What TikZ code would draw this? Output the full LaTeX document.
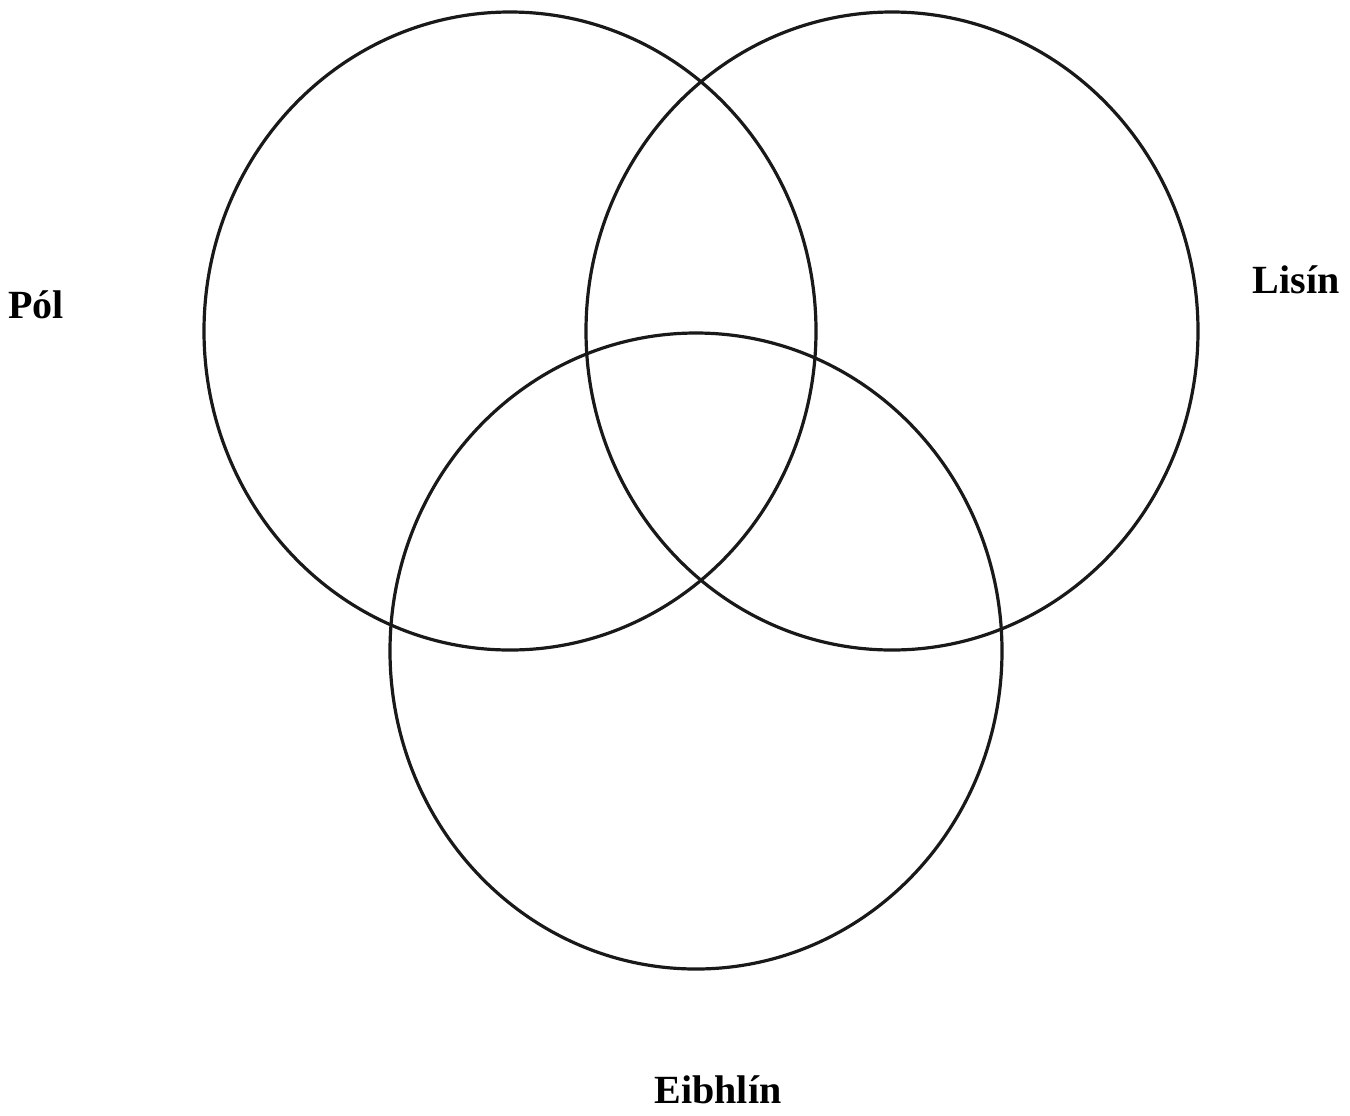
\documentclass[tikz,border=0pt]{standalone}
\usepackage{fontspec}
\setmainfont{Liberation Serif}
\begin{document}
\begin{tikzpicture}[x=0.5pt, y=-0.5pt]
  \tikzset{ring/.style={draw=black!90, line width=1.6pt},
    lbl/.style={font=\fontsize{20}{24}\selectfont\bfseries, inner sep=0pt}}
\useasboundingbox (0,0) rectangle (1350,1115);
% the three sets
\draw[ring] (510,331) ellipse [x radius=306, y radius=-319];
\draw[ring] (892,331) ellipse [x radius=306, y radius=-319];
\draw[ring] (696,651) ellipse [x radius=306, y radius=-318];
% names
\node[lbl] (pol) at (36,305) {Pól};
\node[lbl] (lisin) at (1296,280) {Lisín};
\node[lbl] (eibhlin) at (718,1090) {Eibhlín};
\end{tikzpicture}
\end{document}
